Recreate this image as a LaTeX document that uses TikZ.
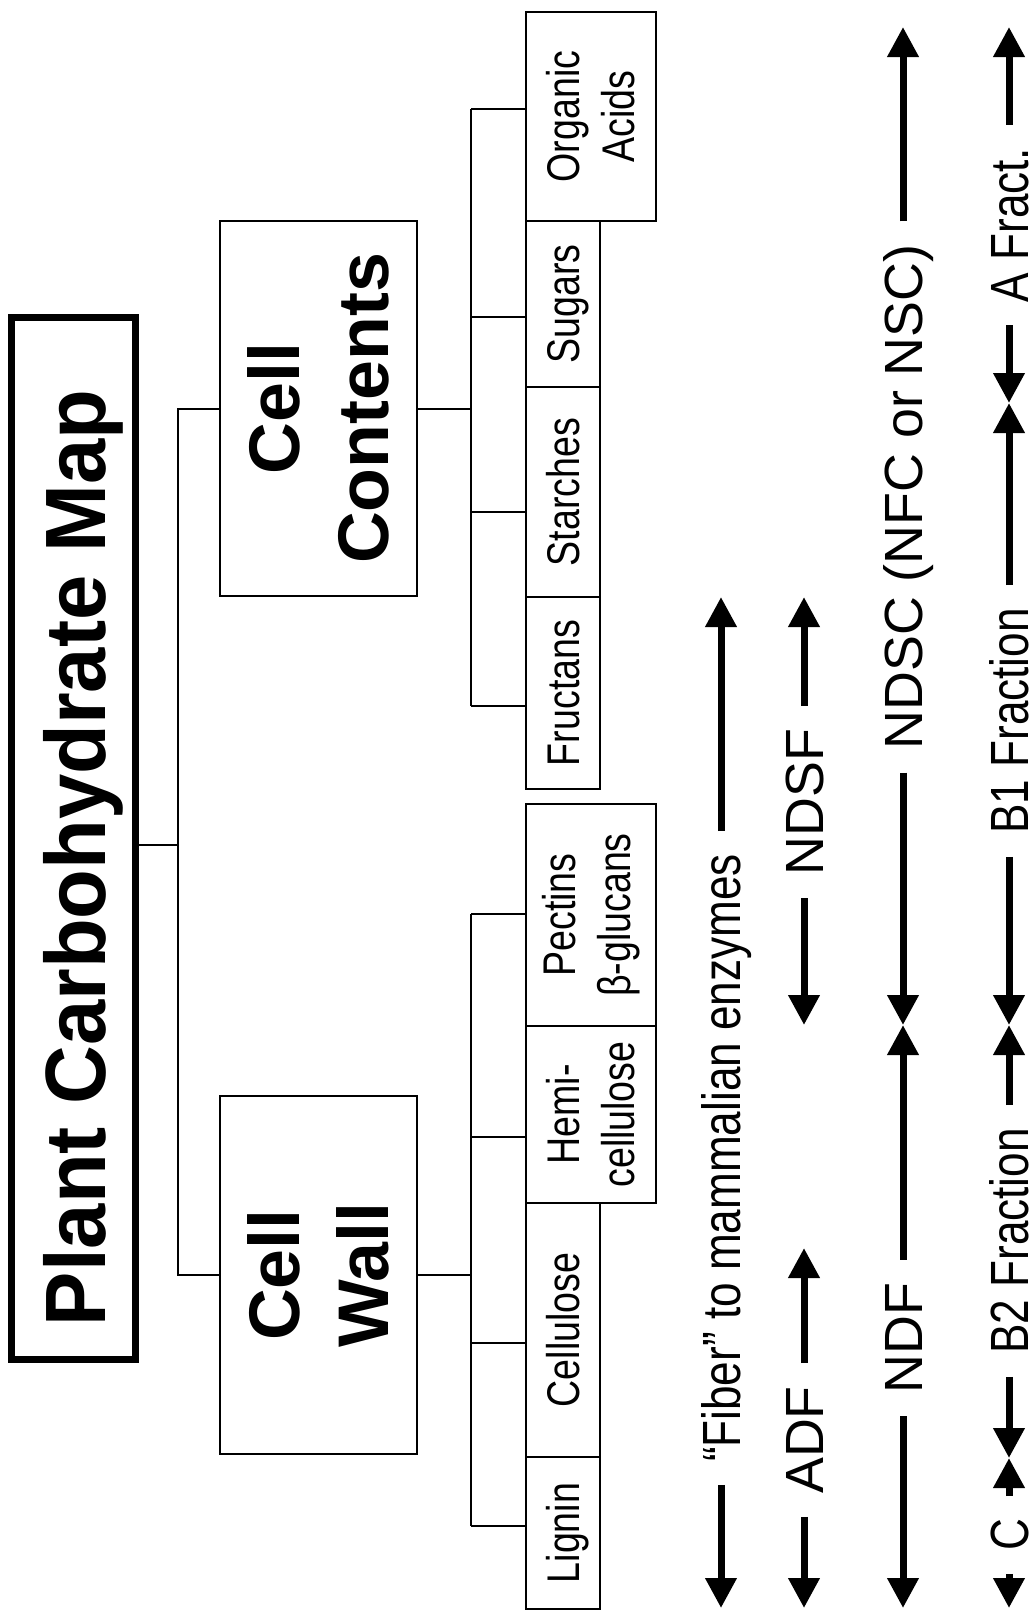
\documentclass[tikz,border=0pt]{standalone}
\usepackage{fontspec}
\setmainfont{Liberation Sans}
\newfontfamily\titlefont[FakeStretch=0.95]{Liberation Sans}
\newfontfamily\narrowfont[FakeStretch=0.82]{Liberation Sans}
\usetikzlibrary{arrows.meta,positioning}

\begin{document}
\begin{tikzpicture}[line width=2bp,
	box/.style={draw,rotate=90,inner sep=0pt,align=center},
	cell/.style={box,minimum height=197bp,font=\bfseries\fontsize{72}{90}\selectfont},
	leaf/.style={box,font=\narrowfont\fontsize{46}{55}\selectfont},
	oneline/.style={text height=33bp,text depth=0pt},
	tag/.style={rotate=90,inner xsep=22bp,inner ysep=0pt,text height=39bp,text depth=0pt,
		font=\fontsize{54}{60}\selectfont},
	narrowtag/.style={tag,font=\narrowfont\fontsize{54}{60}\selectfont},
	fat/.style={line width=7bp,-{Triangle[width=30bp,length=30bp]}}]
	\useasboundingbox (0bp,0bp) rectangle (1031bp,-1612bp);

	% title
	\node (title) at (73.5bp,-838.5bp) [draw,line width=7bp,minimum width=124bp,minimum height=1042bp] {};
	\node (titletext) at (74bp,-858bp) [rotate=90,inner sep=0pt,text height=62bp,text depth=0pt,
		font=\titlefont\bfseries\fontsize{86}{100}\selectfont] {Plant Carbohydrate Map};

	% main groups
	\node (cc) at (318.5bp,-408.5bp) [cell,minimum width=375bp] {Cell\\Contents};
	\node (cw) at (318.5bp,-1275bp) [cell,minimum width=358bp] {Cell\\Wall};

	% cell contents
	\node (org) at (591bp,-116.5bp) [leaf,minimum width=209bp,minimum height=130bp] {Organic\\Acids};
	\node (sug) at (563bp,-304bp) [leaf,oneline,minimum width=166bp,minimum height=74bp] {Sugars};
	\node (sta) at (563bp,-492bp) [leaf,oneline,minimum width=210bp,minimum height=74bp] {Starches};
	\node (fru) at (563bp,-693bp) [leaf,oneline,minimum width=192bp,minimum height=74bp] {Fructans};

	% cell wall
	\node (pec) at (591bp,-915bp) [leaf,minimum width=222bp,minimum height=130bp] {Pectins\\β-glucans};
	\node (hem) at (591bp,-1114.5bp) [leaf,minimum width=177bp,minimum height=130bp] {Hemi-\\cellulose};
	\node (cel) at (563bp,-1330bp) [leaf,oneline,minimum width=254bp,minimum height=74bp] {Cellulose};
	\node (lig) at (563bp,-1533bp) [leaf,oneline,minimum width=152bp,minimum height=74bp] {Lignin};

	% tree lines
	\coordinate (hub) at (178bp,-845bp);
	\draw (title.east |- hub) -- (hub);
	\draw (cc) -| (hub) |- (cw);

	\coordinate (c1) at (471bp,-109bp);
	\coordinate (c2) at (471bp,-317bp);
	\coordinate (c3) at (471bp,-512bp);
	\coordinate (c4) at (471bp,-706bp);
	\draw (c1) -- (c4);
	\draw (cc) -- (cc -| c1);
	\foreach \b/\n in {c1/org,c2/sug,c3/sta,c4/fru}
		\draw (\b) -- (\b -| \n.north);

	\coordinate (w1) at (471bp,-914bp);
	\coordinate (w2) at (471bp,-1137bp);
	\coordinate (w3) at (471bp,-1343bp);
	\coordinate (w4) at (471bp,-1526bp);
	\draw (w1) -- (w4);
	\draw (cw) -- (cw -| w1);
	\foreach \b/\n in {w1/pec,w2/hem,w3/cel,w4/lig}
		\draw (\b) -- (\b -| \n.north);

	% fractions
	\node (fib) at (721bp,-1158bp) [narrowtag] {“Fiber” to mammalian enzymes};
	\coordinate (f1) at (721bp,-597bp);
	\coordinate (f2) at (721bp,-1608bp);
	\draw [fat] (fib.east) -- (f1);
	\draw [fat] (fib.west) -- (f2);

	\node (ndsf) at (804bp,-802bp) [tag] {NDSF};
	\node (adf) at (804bp,-1440bp) [tag] {ADF};
	\coordinate (n1) at (804bp,-597bp);
	\coordinate (n2) at (804bp,-1025bp);
	\coordinate (a1) at (804bp,-1248bp);
	\coordinate (a2) at (804bp,-1608bp);
	\draw [fat] (ndsf.east) -- (n1);
	\draw [fat] (ndsf.west) -- (n2);
	\draw [fat] (adf.east) -- (a1);
	\draw [fat] (adf.west) -- (a2);

	\node (ndsc) at (903bp,-497bp) [tag] {NDSC (NFC or NSC)};
	\node (ndf) at (903bp,-1338bp) [tag] {NDF};
	\coordinate (s1) at (903bp,-27bp);
	\coordinate (j1) at (903bp,-1025bp);
	\coordinate (s2) at (903bp,-1608bp);
	\draw [fat] (ndsc.east) -- (s1);
	\draw [fat] (ndsc.west) -- (j1);
	\draw [fat] (ndf.east) -- (j1);
	\draw [fat] (ndf.west) -- (s2);

	\node (afr) at (1009bp,-225bp) [narrowtag] {A Fract.};
	\node (bone) at (1009bp,-721bp) [narrowtag] {B1 Fraction};
	\node (btwo) at (1009bp,-1241bp) [narrowtag] {B2 Fraction};
	\node (cfr) at (1009bp,-1535bp) [narrowtag] {C};
	\coordinate (r1) at (1009bp,-27bp);
	\coordinate (j2) at (1009bp,-403bp);
	\coordinate (j3) at (1009bp,-1025bp);
	\coordinate (j4) at (1009bp,-1458bp);
	\coordinate (r2) at (1009bp,-1608bp);
	\draw [fat] (afr.east) -- (r1);
	\draw [fat] (afr.west) -- (j2);
	\draw [fat] (bone.east) -- (j2);
	\draw [fat] (bone.west) -- (j3);
	\draw [fat] (btwo.east) -- (j3);
	\draw [fat] (btwo.west) -- (j4);
	\draw [fat] (cfr.east) -- (j4);
	\draw [fat] (cfr.west) -- (r2);
\end{tikzpicture}
\end{document}
